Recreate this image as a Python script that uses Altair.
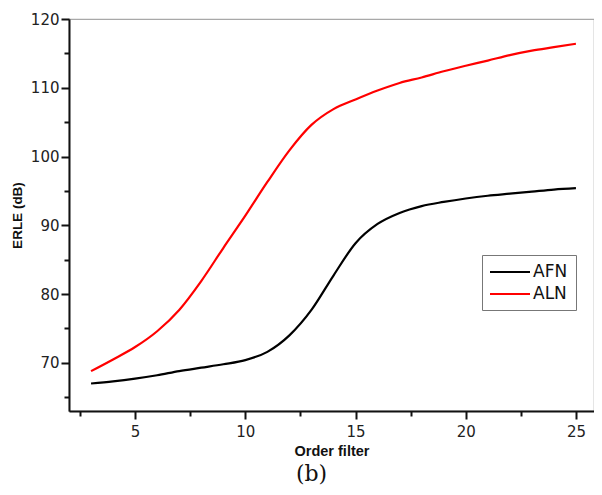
import altair as alt
import pandas as pd

order = list(range(3, 26))
afn = [67.0, 67.3, 67.7, 68.2, 68.8, 69.3, 69.8, 70.4, 71.6, 74.0, 77.7, 82.7,
       87.4, 90.2, 91.8, 92.8, 93.4, 93.9, 94.3, 94.6, 94.9, 95.2, 95.4]
aln = [68.8, 70.5, 72.3, 74.6, 77.7, 81.9, 86.7, 91.4, 96.3, 100.9, 104.6, 106.9,
       108.3, 109.6, 110.7, 111.5, 112.4, 113.2, 113.95, 114.75, 115.4, 115.9, 116.4]
series_names = ["AFN", "ALN"]
series_colors = ["#000000", "#ff0000"]
x_major = [5, 10, 15, 20, 25]
x_minor = [2.5, 7.5, 12.5, 17.5, 22.5]
y_major = [70, 80, 90, 100, 110, 120]
y_minor = [65, 75, 85, 95, 105, 115]

rows = []
for o, a, b in zip(order, afn, aln):
    rows.append({"order": o, "erle": a, "series": "AFN"})
    rows.append({"order": o, "erle": b, "series": "ALN"})
df = pd.DataFrame(rows)

xscale = alt.Scale(domain=[2, 25.82], nice=False, zero=False)
yscale = alt.Scale(domain=[63, 120], nice=False, zero=False)

lab_font = "DejaVu Sans"
ttl_font = "Liberation Sans"

x_axis = alt.Axis(orient="bottom", values=x_major, title="Order filter", grid=False,
                  domainColor="#111111", domainWidth=2, tickColor="#111111", tickWidth=2,
                  tickSize=8, labelFont=lab_font, labelFontSize=15, labelColor="#222222",
                  labelPadding=5, titleFont=ttl_font, titleFontSize=14.5, titleFontWeight="bold",
                  titleColor="#111111", titlePadding=5, labelFlush=False)
y_axis = alt.Axis(orient="left", values=y_major, title="ERLE (dB)", grid=False,
                  domainColor="#111111", domainWidth=2, tickColor="#111111", tickWidth=2,
                  tickSize=8, labelFont=lab_font, labelFontSize=15, labelColor="#222222",
                  labelPadding=2, titleFont=ttl_font, titleFontSize=13.5, titleFontWeight="bold",
                  titleColor="#111111", titlePadding=6, labelFlush=False)
x_minor_axis = alt.Axis(orient="bottom", values=x_minor, title=None, labels=False, grid=False,
                        domain=False, tickColor="#111111", tickWidth=2, tickSize=5)
y_minor_axis = alt.Axis(orient="left", values=y_minor, title=None, labels=False, grid=False,
                        domain=False, tickColor="#111111", tickWidth=2, tickSize=5)

minor = alt.Chart(df).mark_line(strokeOpacity=0).encode(
    x=alt.X("order:Q", scale=xscale, axis=x_minor_axis),
    y=alt.Y("erle:Q", scale=yscale, axis=y_minor_axis),
    detail="series:N",
)

lines = alt.Chart(df).mark_line(interpolate="monotone", strokeWidth=2.2).encode(
    x=alt.X("order:Q", scale=xscale, axis=x_axis),
    y=alt.Y("erle:Q", scale=yscale, axis=y_axis),
    color=alt.Color("series:N", scale=alt.Scale(domain=series_names, range=series_colors),
                    legend=alt.Legend(title=None, orient="none", legendX=413, legendY=236,
                                      symbolType="M-2.5,0H2.5", symbolSize=256,
                                      symbolStrokeWidth=2, symbolOffset=11,
                                      labelFont=lab_font,
                                      labelFontSize=17, labelColor="#111111",
                                      labelOffset=14, padding=8, rowPadding=5,
                                      strokeColor="#777777", fillColor="white")),
)

chart = alt.layer(minor, lines).resolve_axis(x="independent", y="independent").properties(
    width=525, height=392,
    autosize=alt.AutoSizeParams(type="none"),
    padding={"left": 61, "top": 11, "right": 0, "bottom": 76},
    title=alt.TitleParams("(b)", orient="bottom", font="DejaVu Serif", fontSize=22,
                          fontWeight="normal", color="#111111", offset=6, dx=-20),
).configure_view(stroke="#a8a8a8", strokeWidth=1.2)

chart.save("out.html", embed_options={"renderer": "svg", "actions": False})
